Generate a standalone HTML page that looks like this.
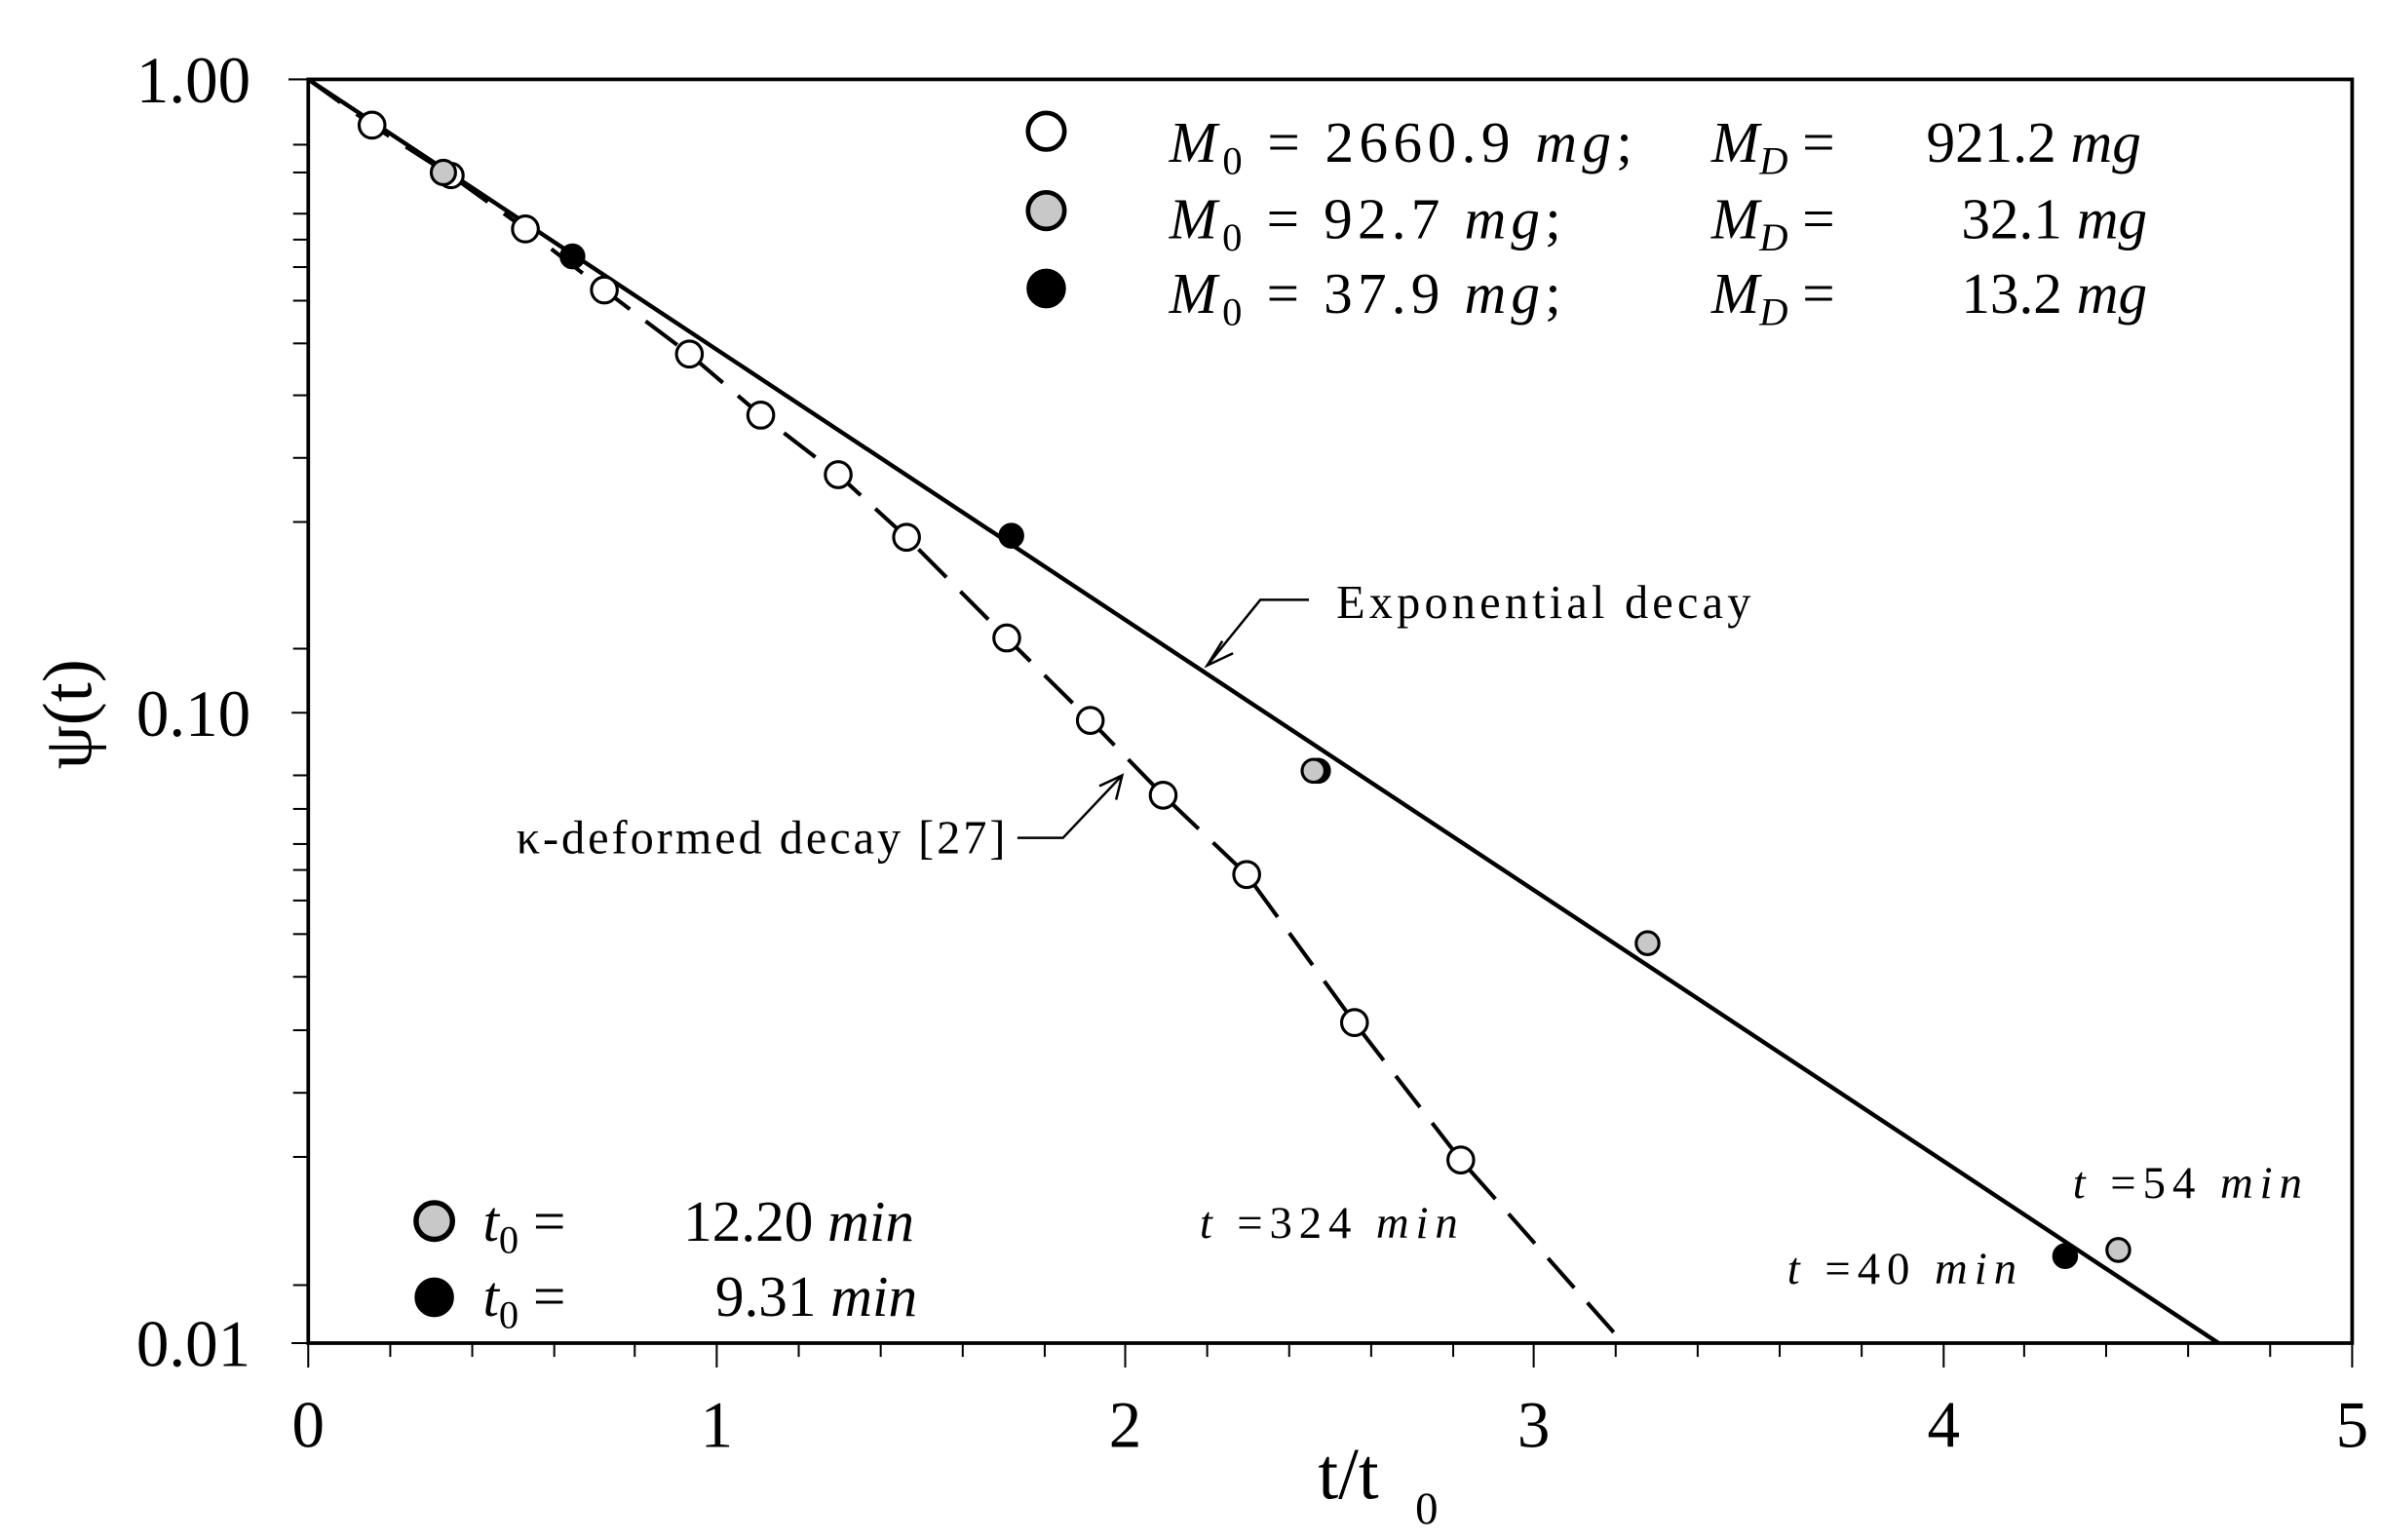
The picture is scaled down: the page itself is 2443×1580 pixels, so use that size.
<!DOCTYPE html>
<html><head><meta charset="utf-8"><style>
html,body{margin:0;padding:0;background:#fff}
svg{display:block}
text{font-family:"Liberation Serif",serif;fill:#000}
.it{font-style:italic}
</style></head><body>
<svg width="2443" height="1580" viewBox="0 0 1568 1009" preserveAspectRatio="none" xmlns="http://www.w3.org/2000/svg">
<rect x="0" y="0" width="1568" height="1009" fill="#fff"/>
<rect x="203" y="52" width="1346" height="828" fill="none" stroke="#000" stroke-width="2.4"/>
<g stroke="#000" stroke-width="1.3">
<line x1="190" y1="52" x2="203" y2="52"/><line x1="192" y1="467" x2="203" y2="467"/><line x1="192" y1="880" x2="203" y2="880"/>
<line x1="193" y1="94.8" x2="203" y2="94.8"/><line x1="193" y1="140" x2="203" y2="140"/><line x1="193" y1="175" x2="203" y2="175"/><line x1="193" y1="225" x2="203" y2="225"/><line x1="193" y1="300" x2="203" y2="300"/><line x1="193" y1="425" x2="203" y2="425"/>
<line x1="193" y1="508" x2="203" y2="508"/><line x1="193" y1="553" x2="203" y2="553"/><line x1="193" y1="590" x2="203" y2="590"/><line x1="193" y1="640" x2="203" y2="640"/><line x1="193" y1="716" x2="203" y2="716"/><line x1="193" y1="842" x2="203" y2="842"/>
<line x1="193" y1="530" x2="203" y2="530"/><line x1="193" y1="570" x2="203" y2="570"/><line x1="193" y1="612" x2="203" y2="612"/><line x1="193" y1="675" x2="203" y2="675"/><line x1="193" y1="758" x2="203" y2="758"/>
<line x1="193" y1="113" x2="203" y2="113"/><line x1="193" y1="157" x2="203" y2="157"/><line x1="193" y1="197" x2="203" y2="197"/><line x1="193" y1="259" x2="203" y2="259"/><line x1="193" y1="342" x2="203" y2="342"/>
</g>
<g stroke="#000" stroke-width="1.3">
<line x1="203" y1="880" x2="203" y2="896"/><line x1="257" y1="880" x2="257" y2="889"/><line x1="311" y1="880" x2="311" y2="889"/><line x1="365" y1="880" x2="365" y2="889"/><line x1="418" y1="880" x2="418" y2="889"/>
<line x1="472" y1="880" x2="472" y2="896"/><line x1="526" y1="880" x2="526" y2="889"/><line x1="580" y1="880" x2="580" y2="889"/><line x1="634" y1="880" x2="634" y2="889"/><line x1="688" y1="880" x2="688" y2="889"/>
<line x1="741" y1="880" x2="741" y2="896"/><line x1="795" y1="880" x2="795" y2="889"/><line x1="849" y1="880" x2="849" y2="889"/><line x1="903" y1="880" x2="903" y2="889"/><line x1="957" y1="880" x2="957" y2="889"/>
<line x1="1010" y1="880" x2="1010" y2="896"/><line x1="1064" y1="880" x2="1064" y2="889"/><line x1="1118" y1="880" x2="1118" y2="889"/><line x1="1172" y1="880" x2="1172" y2="889"/><line x1="1226" y1="880" x2="1226" y2="889"/>
<line x1="1280" y1="880" x2="1280" y2="896"/><line x1="1333" y1="880" x2="1333" y2="889"/><line x1="1387" y1="880" x2="1387" y2="889"/><line x1="1441" y1="880" x2="1441" y2="889"/><line x1="1495" y1="880" x2="1495" y2="889"/>
<line x1="1549" y1="880" x2="1549" y2="896"/>
</g>
<g font-size="43">
<text x="165" y="67" text-anchor="end">1.00</text>
<text x="165" y="482" text-anchor="end">0.10</text>
<text x="165" y="895" text-anchor="end">0.01</text>
<text x="203" y="948" text-anchor="middle">0</text>
<text x="472" y="948" text-anchor="middle">1</text>
<text x="741" y="948" text-anchor="middle">2</text>
<text x="1010" y="948" text-anchor="middle">3</text>
<text x="1280" y="948" text-anchor="middle">4</text>
<text x="1549" y="948" text-anchor="middle">5</text>
</g>
<text x="868" y="982" font-size="48">t/t</text><text x="932" y="998" font-size="30">0</text>
<text transform="translate(60,468) rotate(-90)" font-size="46" text-anchor="middle">ψ(t)</text>
<line x1="203" y1="52" x2="1461" y2="880" stroke="#000" stroke-width="2.8"/>
<polyline fill="none" stroke="#000" stroke-width="2.6" stroke-dasharray="26,13" points="203,52 245,82 297,115 346,150 398,190 454,232 501,272 552,311 597,352 663,418 718,472 766,521 821,573 892,670 962,760 1069,880"/>
<g stroke="#000" stroke-width="2">
<circle cx="297" cy="115" r="8" fill="#fff"/>
<circle cx="292" cy="113" r="8" fill="#c8c8c8"/>
<g fill="#fff">
<circle cx="245" cy="82" r="8.5"/><circle cx="346" cy="150" r="8.5"/><circle cx="398" cy="190" r="8.5"/><circle cx="454" cy="232" r="8.5"/><circle cx="501" cy="272" r="8.5"/><circle cx="552" cy="311" r="8.5"/><circle cx="597" cy="352" r="8.5"/><circle cx="663" cy="418" r="8.5"/><circle cx="718" cy="472" r="8.5"/><circle cx="766" cy="521" r="8.5"/><circle cx="821" cy="573" r="8.5"/><circle cx="892" cy="670" r="8.5"/><circle cx="962" cy="760" r="8.5"/>
</g>
<g fill="#c8c8c8"><circle cx="868" cy="505" r="7.5" fill="#000"/><circle cx="865" cy="505" r="7.5"/><circle cx="1085" cy="618" r="7.5"/><circle cx="1395" cy="819" r="7.5"/></g>
<g fill="#000"><circle cx="377" cy="168" r="7.5"/><circle cx="666" cy="351" r="7.5"/><circle cx="1360" cy="823" r="7.5"/></g>
<circle cx="689" cy="86" r="12" fill="#fff" stroke-width="3"/>
<circle cx="689" cy="138" r="12" fill="#c8c8c8" stroke-width="3"/>
<circle cx="689" cy="189" r="12" fill="#000"/>
<circle cx="286" cy="800" r="12" fill="#c8c8c8" stroke-width="3.5"/>
<circle cx="286" cy="850" r="12" fill="#000"/>
</g>
<g font-size="38">
<text x="770" y="106" textLength="305"><tspan class="it">M</tspan><tspan font-size="26" dy="8">0</tspan><tspan dy="-8"> = 2660.9 </tspan><tspan class="it">mg</tspan>;</text>
<text x="1127" y="106"><tspan class="it">M</tspan><tspan font-size="26" dy="8" class="it">D</tspan><tspan dy="-8"> =</tspan></text>
<text x="1410" y="106" text-anchor="end">921.2 <tspan class="it">mg</tspan></text>
<text x="770" y="156" textLength="258"><tspan class="it">M</tspan><tspan font-size="26" dy="8">0</tspan><tspan dy="-8"> = 92.7 </tspan><tspan class="it">mg</tspan>;</text>
<text x="1127" y="156"><tspan class="it">M</tspan><tspan font-size="26" dy="8" class="it">D</tspan><tspan dy="-8"> =</tspan></text>
<text x="1414" y="156" text-anchor="end">32.1 <tspan class="it">mg</tspan></text>
<text x="770" y="205" textLength="258"><tspan class="it">M</tspan><tspan font-size="26" dy="8">0</tspan><tspan dy="-8"> = 37.9 </tspan><tspan class="it">mg</tspan>;</text>
<text x="1127" y="205"><tspan class="it">M</tspan><tspan font-size="26" dy="8" class="it">D</tspan><tspan dy="-8"> =</tspan></text>
<text x="1414" y="205" text-anchor="end">13.2 <tspan class="it">mg</tspan></text>
<text x="318" y="813"><tspan class="it">t</tspan><tspan font-size="26" dy="8">0</tspan><tspan dy="-8"> =</tspan></text>
<text x="602" y="813" text-anchor="end">12.20 <tspan class="it">min</tspan></text>
<text x="318" y="862"><tspan class="it">t</tspan><tspan font-size="26" dy="8">0</tspan><tspan dy="-8"> =</tspan></text>
<text x="604" y="862" text-anchor="end">9.31 <tspan class="it">min</tspan></text>
</g>
<g font-size="31">
<text x="880" y="405" textLength="273">Exponential decay</text>
<text x="340" y="559" textLength="322">κ-deformed decay [27]</text>
<text x="790" y="811" font-size="30" textLength="170"><tspan class="it">t</tspan> =324 <tspan class="it">min</tspan></text>
<text x="1177" y="841" font-size="30" textLength="151"><tspan class="it">t</tspan> =40 <tspan class="it">min</tspan></text>
<text x="1365" y="785" font-size="30" textLength="151"><tspan class="it">t</tspan> =54 <tspan class="it">min</tspan></text>
</g>
<g stroke="#000" stroke-width="1.6" fill="none">
<polyline points="862,393 830,393 795,436"/>
<polyline points="805,420 795,436 812,428"/>
<polyline points="670,549 700,549 739,508"/>
<polyline points="724,515 739,508 735,524"/>
</g>
</svg>
</body></html>
